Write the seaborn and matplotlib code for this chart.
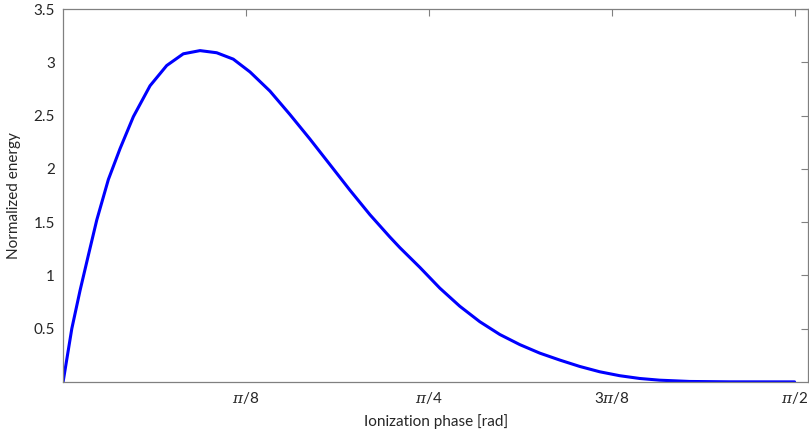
import numpy as np
import pandas as pd
import matplotlib
matplotlib.use("Agg")
import matplotlib.pyplot as plt
import seaborn as sns

# ionization phase [rad] and normalized return energy
phase = [0.0, 0.0187, 0.0365, 0.0543, 0.0723, 0.0972, 0.1223, 0.1509, 0.1867,
         0.2225, 0.2581, 0.2940, 0.3298, 0.3654, 0.4013, 0.4442, 0.4871,
         0.5300, 0.5730, 0.6159, 0.6588, 0.7017, 0.7232, 0.7661, 0.8090,
         0.8519, 0.8948, 0.9378, 0.9807, 1.0236, 1.0665, 1.1094, 1.1523,
         1.1953, 1.2382, 1.2811, 1.3455, 1.4310, 1.5708]
energy = [0.0, 0.50, 0.86, 1.19, 1.52, 1.90, 2.19, 2.49, 2.78,
          2.97, 3.08, 3.11, 3.09, 3.03, 2.91, 2.73, 2.51,
          2.28, 2.04, 1.80, 1.57, 1.36, 1.26, 1.075, 0.88,
          0.71, 0.565, 0.445, 0.35, 0.27, 0.205, 0.145, 0.095,
          0.058, 0.032, 0.016, 0.004, 0.0005, 0.0]

xtick_pos = [np.pi / 8, np.pi / 4, 3 * np.pi / 8, np.pi / 2]
xtick_lab = [r"$\pi$/8", r"$\pi$/4", r"3$\pi$/8", r"$\pi$/2"]
ytick_pos = [0.5, 1, 1.5, 2, 2.5, 3, 3.5]
ytick_lab = ["0.5", "1", "1.5", "2", "2.5", "3", "3.5"]

df = pd.DataFrame({"phase": phase, "energy": energy})

sns.set_theme(style="white")
plt.rcParams["font.family"] = ["Lato", "DejaVu Sans"]
plt.rcParams["mathtext.fontset"] = "dejavuserif"

fig = plt.figure(figsize=(8.09, 4.32), dpi=100)
ax = fig.add_axes([0.078, 0.116, 0.921, 0.863])

sns.lineplot(data=df, x="phase", y="energy", color="#0000ff", linewidth=2.2, ax=ax)

ax.set_xlim(0, 1.6)
ax.set_ylim(0, 3.5)
ax.set_xticks(xtick_pos)
ax.set_xticklabels(xtick_lab)
ax.set_yticks(ytick_pos)
ax.set_yticklabels(ytick_lab)
ax.tick_params(direction="in", top=True, right=True, length=5, width=0.8,
               color="#808080", labelsize=11, labelcolor="#262626", pad=6)
for s in ax.spines.values():
    s.set_color("#808080")
    s.set_linewidth(0.9)

ax.set_xlabel("Ionization phase [rad]", fontsize=11, color="#262626", labelpad=6)
ax.set_ylabel("Normalized energy", fontsize=11, color="#262626", labelpad=9)

fig.savefig("out.png", dpi=100)
